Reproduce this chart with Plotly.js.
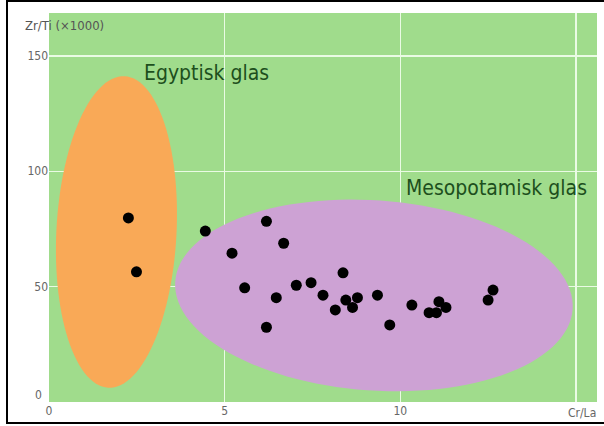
<!DOCTYPE html>
<html>
<head>
<meta charset="utf-8">
<script src="https://cdn.plot.ly/plotly-3.0.1.min.js"></script>
<style>
  html, body { margin: 0; padding: 0; background: #ffffff; }
  #chart { width: 604px; height: 426px; }
  #frame { position: absolute; left: 6px; top: 0px; width: 620px; height: 424px;
           box-sizing: border-box; border: 2px solid #000; pointer-events: none; }
</style>
</head>
<body>
<div id="chart"></div>
<div id="frame"></div>
<script>
// Data (Cr/La vs Zr/Ti x1000)
const egyptX = [2.26, 2.49];
const egyptY = [79.8, 56.4];
const mesoX = [4.45, 5.21, 6.19, 6.68, 5.57, 6.47, 6.19, 7.04, 7.46, 7.80, 8.37, 8.15,
               8.45, 8.64, 8.78, 9.35, 9.70, 10.33, 10.82, 11.03, 11.10, 11.30, 12.50, 12.64];
const mesoY = [74.1, 64.5, 78.3, 68.8, 49.5, 45.2, 32.4, 50.6, 51.7, 46.3, 56.0, 39.9,
               44.2, 41.0, 45.2, 46.3, 33.4, 42.0, 38.7, 38.7, 43.5, 41.0, 44.2, 48.5];
const groupLabels = ["Egyptisk glas", "Mesopotamisk glas"];
const xTickVals = [0, 5, 10, 15];
const xTickText = ["0", "5", "10", ""];
const yTickVals = [50, 100, 150];
const yTickText = ["50", "100", "150"];
const yZeroLabel = "0";
const yAxisLabel = "Zr/Ti (×1000)";
const xAxisLabel = "Cr/La";

// Region ellipses: [cx, cy, rx, ry, angleDeg]
const egyptRegion = [1.92, 73.7, 1.71, 67.6, 3];
const mesoRegion = [9.25, 46.2, 5.67, 41.2, 4];

const W = 604, H = 426;
const margin = {l: 49, r: 7, t: 13, b: 24};
const xRange = [0, 15.6];
const yRange = [0, 168.6];
const pxX = (W - margin.l - margin.r) / (xRange[1] - xRange[0]);
const pxY = (H - margin.t - margin.b) / (yRange[1] - yRange[0]);

function ellipsePath(p) {
  const [cx, cy, rx, ry, ang] = p;
  const a = rx * pxX, b = ry * pxY, th = ang * Math.PI / 180;
  let d = "";
  const n = 120;
  for (let i = 0; i <= n; i++) {
    const t = 2 * Math.PI * i / n;
    const ex = a * Math.cos(t), ey = b * Math.sin(t);
    const dx = ex * Math.cos(th) - ey * Math.sin(th);
    const dy = ex * Math.sin(th) + ey * Math.cos(th);
    const x = cx + dx / pxX;
    const y = cy - dy / pxY;
    d += (i === 0 ? "M" : "L") + x.toFixed(4) + "," + y.toFixed(4);
  }
  return d + "Z";
}

const font = "'DejaVu Sans Condensed', 'Liberation Sans Narrow', Arial, sans-serif";

const traces = [
  {x: egyptX, y: egyptY, type: "scatter", mode: "markers",
   marker: {color: "#000000", size: 11}, hoverinfo: "skip"},
  {x: mesoX, y: mesoY, type: "scatter", mode: "markers",
   marker: {color: "#000000", size: 11}, hoverinfo: "skip"}
];

const layout = {
  width: W, height: H,
  margin: margin,
  paper_bgcolor: "#ffffff",
  plot_bgcolor: "#a0dc8c",
  showlegend: false,
  font: {family: font, color: "#555555", size: 12},
  xaxis: {range: xRange, tickvals: xTickVals, ticktext: xTickText,
          showgrid: true, gridcolor: "#eafbe4", gridwidth: 1.5,
          zeroline: false, showline: false, ticks: "", fixedrange: true,
          tickfont: {family: font, size: 12, color: "#666666"}},
  yaxis: {range: yRange, tickvals: yTickVals, ticktext: yTickText,
          showgrid: true, gridcolor: "#eafbe4", gridwidth: 1.5,
          zeroline: false, showline: false, ticks: "", fixedrange: true,
          tickfont: {family: font, size: 12, color: "#666666"}},
  shapes: [
    {type: "path", path: ellipsePath(egyptRegion), xref: "x", yref: "y",
     fillcolor: "#f9a957", line: {width: 0}, layer: "between"},
    {type: "path", path: ellipsePath(mesoRegion), xref: "x", yref: "y",
     fillcolor: "#cda2d4", line: {width: 0}, layer: "between"}
  ],
  annotations: [
    {text: groupLabels[0], x: 2.66, y: 142.6, xref: "x", yref: "y",
     xanchor: "left", yanchor: "middle", showarrow: false,
     font: {family: font, size: 21, color: "#1d4f1d"}},
    {text: groupLabels[1], x: 10.1, y: 92.8, xref: "x", yref: "y",
     xanchor: "left", yanchor: "middle", showarrow: false,
     font: {family: font, size: 21, color: "#1d4f1d"}},
    {text: yAxisLabel, x: -0.047, y: 0.969, xref: "paper", yref: "paper",
     xanchor: "left", yanchor: "middle", showarrow: false,
     font: {family: font, size: 13, color: "#555555"}},
    {text: yZeroLabel, x: -0.01, y: 0.018, xref: "paper", yref: "paper",
     xanchor: "right", yanchor: "middle", showarrow: false,
     font: {family: font, size: 12, color: "#666666"}},
    {text: xAxisLabel, x: 0.973, y: -0.028, xref: "paper", yref: "paper",
     xanchor: "center", yanchor: "middle", showarrow: false,
     font: {family: font, size: 12, color: "#666666"}}
  ]
};

Plotly.newPlot("chart", traces, layout, {displayModeBar: false, staticPlot: true});
</script>
</body>
</html>
